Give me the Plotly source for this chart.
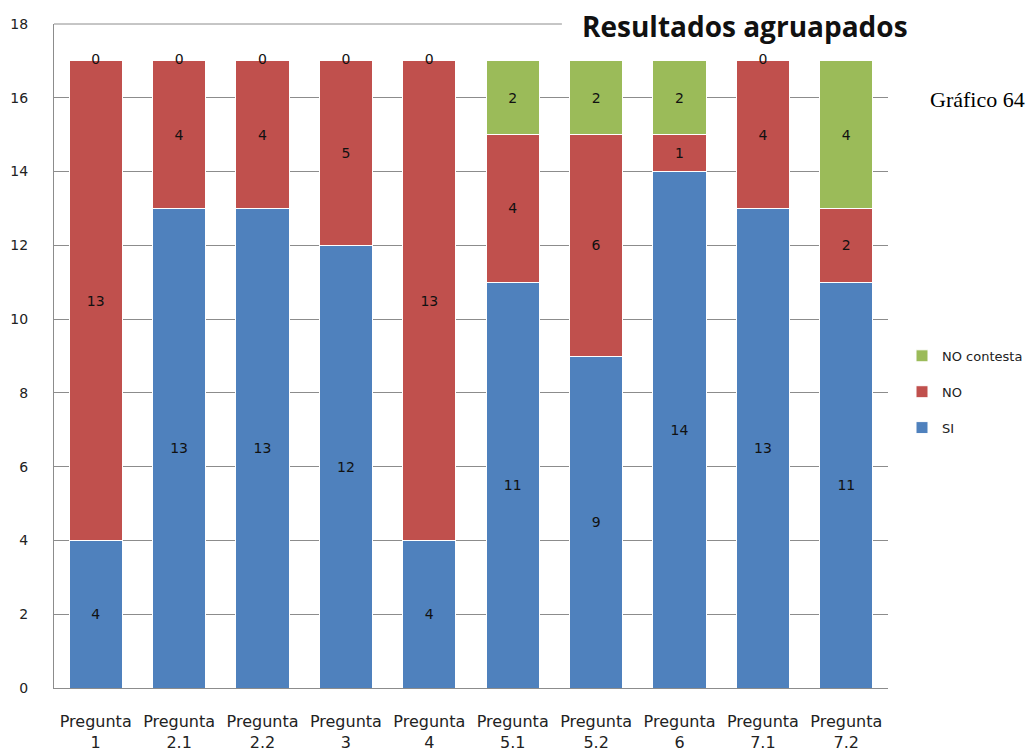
import plotly.graph_objects as go

categories = ["Pregunta 1", "Pregunta 2.1", "Pregunta 2.2", "Pregunta 3", "Pregunta 4",
              "Pregunta 5.1", "Pregunta 5.2", "Pregunta 6", "Pregunta 7.1", "Pregunta 7.2"]
tick_labels = ["Pregunta<br>1", "Pregunta<br>2.1", "Pregunta<br>2.2", "Pregunta<br>3", "Pregunta<br>4",
               "Pregunta<br>5.1", "Pregunta<br>5.2", "Pregunta<br>6", "Pregunta<br>7.1", "Pregunta<br>7.2"]
si_values = [4, 13, 13, 12, 4, 11, 9, 14, 13, 11]
no_values = [13, 4, 4, 5, 13, 4, 6, 1, 4, 2]
nc_values = [0, 0, 0, 0, 0, 2, 2, 2, 0, 4]
y_ticks = [0, 2, 4, 6, 8, 10, 12, 14, 16, 18]

BLUE = "#4F81BD"
RED = "#C0504D"
GREEN = "#9BBB59"
GRID = "#8C8C8C"
TXT = "#222222"

fig = go.Figure()
series = [("SI", si_values, BLUE, 3), ("NO", no_values, RED, 2), ("NO contesta", nc_values, GREEN, 1)]
for name, vals, col, rank in series:
    fig.add_trace(go.Bar(
        name=name, x=categories, y=vals,
        marker=dict(color=col, line=dict(color="white", width=1)),
        text=[str(v) if v != 0 else "" for v in vals],
        textposition="inside", insidetextanchor="middle",
        textfont=dict(family="DejaVu Sans", size=14, color="#111111"),
        legendgroup=name, legendrank=rank,
        hoverinfo="skip",
    ))

# labels for zero-valued "NO contesta" segments, shown at the top of each stack
totals = [a + b + c for a, b, c in zip(si_values, no_values, nc_values)]
zx = [c for c, v in zip(categories, nc_values) if v == 0]
zy = [t for t, v in zip(totals, nc_values) if v == 0]
fig.add_trace(go.Scatter(
    x=zx, y=zy, mode="text", text=["0"] * len(zx), textposition="middle center",
    textfont=dict(family="DejaVu Sans", size=14, color="#111111"),
    showlegend=False, hoverinfo="skip",
))

fig.update_layout(
    width=1027, height=745,
    barmode="stack", bargap=0.36,
    plot_bgcolor="white", paper_bgcolor="white",
    margin=dict(l=46, r=147, t=16, b=65, autoexpand=False),
    showlegend=True,
    legend=dict(
        x=1.0168, y=0.446, xanchor="left", yanchor="middle",
        traceorder="grouped", tracegroupgap=16,
        font=dict(family="DejaVu Sans", size=13, color=TXT),
        bgcolor="rgba(0,0,0,0)",
    ),
    xaxis=dict(
        tickvals=categories, ticktext=tick_labels,
        showline=True, linecolor=GRID, linewidth=1,
        showgrid=False, ticks="", ticklabelstandoff=19,
        tickfont=dict(family="DejaVu Sans", size=16, color=TXT),
    ),
    yaxis=dict(
        range=[0, 18], tickvals=y_ticks,
        showline=True, linecolor=GRID, linewidth=1,
        showgrid=True, gridcolor=GRID, gridwidth=1,
        zeroline=False, ticks="", ticklabelstandoff=22,
        tickfont=dict(family="DejaVu Sans", size=14, color=TXT),
    ),
    shapes=[dict(type="line", xref="paper", yref="paper", x0=0, x1=0.609, y0=1, y1=1,
                 line=dict(color=GRID, width=1))],
    annotations=[
        dict(text="<b>Resultados agruapados</b>", xref="paper", yref="paper",
             x=0.8285, y=0.997, xanchor="center", yanchor="middle", showarrow=False,
             font=dict(family="Open Sans", size=28, color="#111111")),
        dict(text="Gráfico 64", xref="paper", yref="paper",
             x=1.048, y=0.886, xanchor="left", yanchor="middle", showarrow=False,
             font=dict(family="Liberation Serif", size=22, color="#000000")),
    ],
)

fig.write_html("out.html")
